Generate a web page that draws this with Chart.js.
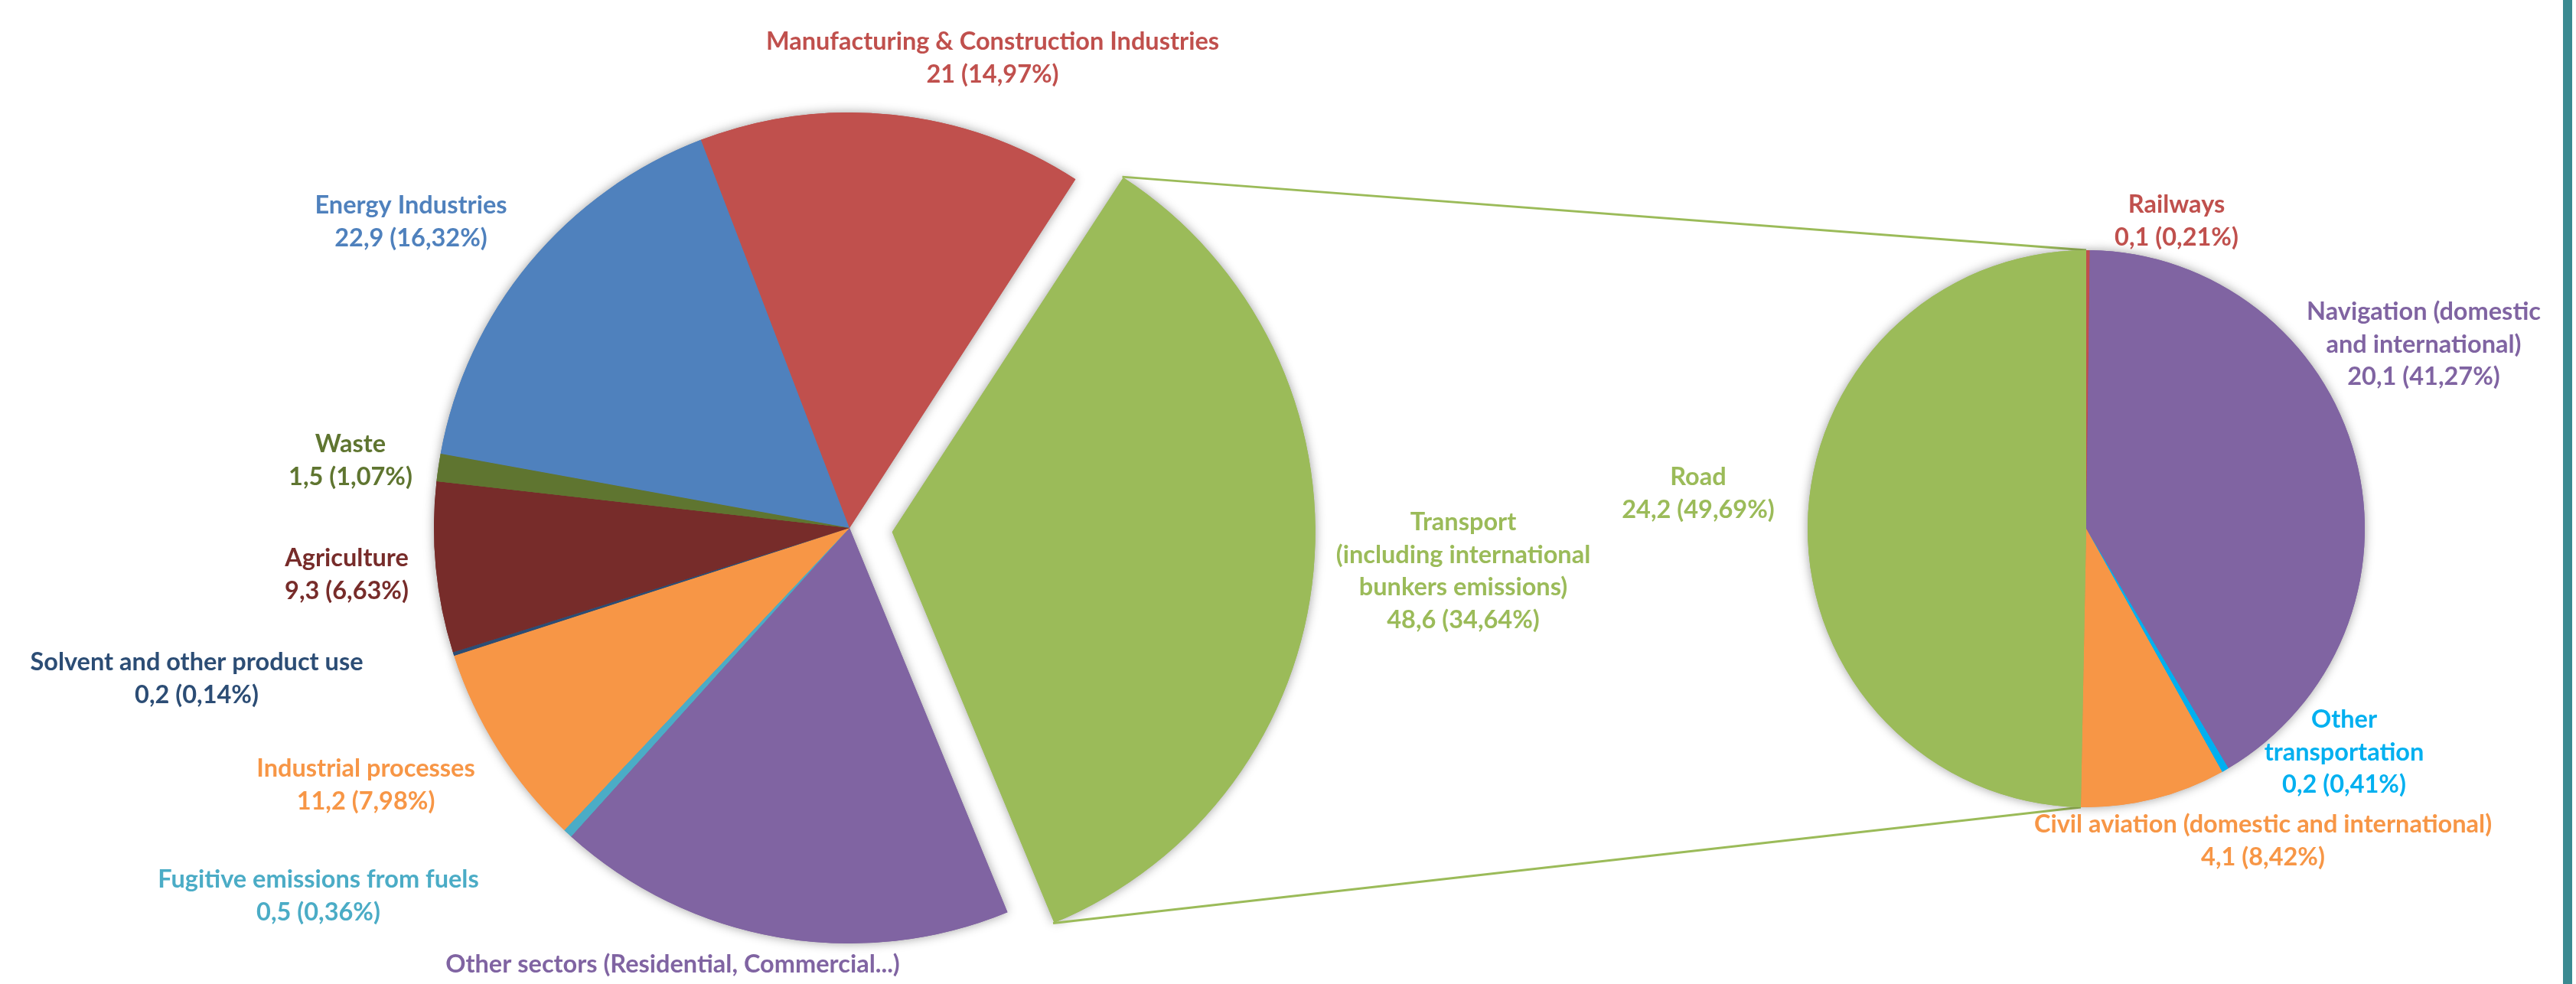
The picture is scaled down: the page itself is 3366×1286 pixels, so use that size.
<!DOCTYPE html>
<html>
<head>
<meta charset="utf-8">
<title>Emissions by sector</title>
<script src="https://cdn.jsdelivr.net/npm/chart.js@4.4.0/dist/chart.umd.min.js"></script>
<style>
  html, body { margin: 0; padding: 0; background: #fff; }
  #stage { position: relative; width: 3366px; height: 1286px; overflow: hidden; background: #fff; }
  #stage canvas { position: absolute; left: 0; top: 0; }
  #edge { position: absolute; left: 3349px; top: 0; width: 12px; height: 1286px; background: #3b8a91; }
</style>
</head>
<body>
<div id="stage">
  <canvas id="mainPie" width="3366" height="1286"></canvas>
  <canvas id="transportPie" width="3366" height="1286"></canvas>
  <div id="edge"></div>
</div>
<script>
// main pie: sectors (clockwise, Energy first)
const sectorNames = [
  ['Energy Industries'],
  ['Manufacturing & Construction Industries'],
  ['Transport', '(including international', 'bunkers emissions)'],
  ['Other sectors (Residential, Commercial...)'],
  ['Fugitive emissions from fuels'],
  ['Industrial processes'],
  ['Solvent and other product use'],
  ['Agriculture'],
  ['Waste'],
];
const sectorValues = [22.9, 21, 48.6, 25.1, 0.5, 11.2, 0.2, 9.3, 1.5];

// secondary pie: split of transport (clockwise from the top)
const transportNames = [
  ['Railways'],
  ['Navigation (domestic', 'and international)'],
  ['Other', 'transportation'],
  ['Civil aviation (domestic and international)'],
  ['Road'],
];
const transportValues = [0.1, 20.1, 0.2, 4.1, 24.2];

const TRANSPORT = 2;
const ROAD = 4;

const sectorColors = ['#4f81bd', '#c0504d', '#9bbb59', '#8064a2', '#4bacc6', '#f79646', '#2c4d75', '#772c2a', '#5f7530'];
const sectorTextColors = ['#4f81bd', '#c0504d', '#9bbb59', '#8064a2', '#4bacc6', '#f79646', '#2c4d75', '#772c2a', '#5f7530'];
const transportColors = ['#c0504d', '#8064a2', '#00b0f0', '#f79646', '#9bbb59'];
const transportTextColors = ['#c0504d', '#8064a2', '#00b0f0', '#f79646', '#9bbb59'];

// first-line centre of each label, relative to its pie centre
const sectorLabelPos = [[-573, -421], [187, -635], [802, -7], [-231, 571], [-694, 460], [-632, 315], [-853, 176], [-657, 40], [-652, -109]];
const transportLabelPos = [[118, -423], [441, -283], [337, 250], [231, 387], [-507, -67]];

const LINE_H = 42.5;
const LABEL_FONT = 'bold 32.5px Lato, "Liberation Sans", sans-serif';

function fmt(n) {
  return String(n).replace('.', ',');
}

const pieShadow = {
  id: 'pieShadow',
  beforeDatasetsDraw(chart) {
    const ctx = chart.ctx;
    ctx.save();
    ctx.shadowColor = 'rgba(0, 0, 0, 0.38)';
    ctx.shadowBlur = 14;
    chart.getDatasetMeta(0).data.forEach((arc) => arc.draw(ctx));
    ctx.restore();
  },
};

const sliceLabels = {
  id: 'sliceLabels',
  afterDatasetsDraw(chart, args, opts) {
    const ctx = chart.ctx;
    const meta = chart.getDatasetMeta(0);
    const values = chart.data.datasets[0].data;
    const total = values.reduce((a, b) => a + b, 0);
    const cx = meta.data[0].x;
    const cy = meta.data[0].y;
    ctx.save();
    ctx.font = LABEL_FONT;
    ctx.textAlign = 'center';
    ctx.textBaseline = 'middle';
    chart.data.labels.forEach((lines, i) => {
      const [dx, dy] = opts.positions[i];
      const pct = (values[i] / total * 100).toFixed(2).replace('.', ',');
      const rows = lines.concat(fmt(values[i]) + ' (' + pct + '%)');
      ctx.fillStyle = opts.colors[i];
      rows.forEach((t, k) => ctx.fillText(t, cx + dx, cy + dy + k * LINE_H));
    });
    ctx.restore();
  },
};

// outer corners of an arc, with the same shift ArcElement.draw applies for offset
function arcEnds(arc) {
  const o = (arc.options.offset || 0) / 4;
  const mid = (arc.startAngle + arc.endAngle) / 2;
  const fix = 1 - Math.sin(Math.min(Math.PI, arc.circumference));
  const r = arc.outerRadius + o * fix;
  const x = arc.x + Math.cos(mid) * o;
  const y = arc.y + Math.sin(mid) * o;
  return {
    start: [x + r * Math.cos(arc.startAngle), y + r * Math.sin(arc.startAngle)],
    end: [x + r * Math.cos(arc.endAngle), y + r * Math.sin(arc.endAngle)],
  };
}

const mainChart = new Chart(document.getElementById('mainPie'), {
  type: 'pie',
  data: {
    labels: sectorNames,
    datasets: [{
      data: sectorValues,
      backgroundColor: sectorColors,
      borderWidth: 0,
      offset: sectorValues.map((v, i) => (i === TRANSPORT ? 224 : 0)),
    }],
  },
  options: {
    responsive: false,
    animation: false,
    radius: 543,
    rotation: 280.3,
    layout: { padding: { left: 0, right: 1146, top: 94, bottom: 0 } },
    plugins: {
      legend: { display: false },
      tooltip: { enabled: false },
      sliceLabels: { positions: sectorLabelPos, colors: sectorTextColors },
    },
  },
  plugins: [pieShadow, sliceLabels],
});

const connectors = {
  id: 'connectors',
  beforeDatasetsDraw(chart) {
    const src = arcEnds(mainChart.getDatasetMeta(0).data[TRANSPORT]);
    const dst = arcEnds(chart.getDatasetMeta(0).data[ROAD]);
    const ctx = chart.ctx;
    ctx.save();
    ctx.strokeStyle = '#9bbb59';
    ctx.lineWidth = 3;
    ctx.beginPath();
    ctx.moveTo(src.start[0], src.start[1]);
    ctx.lineTo(dst.end[0], dst.end[1]);
    ctx.moveTo(src.end[0], src.end[1]);
    ctx.lineTo(dst.start[0], dst.start[1]);
    ctx.stroke();
    ctx.restore();
  },
};

const transportChart = new Chart(document.getElementById('transportPie'), {
  type: 'pie',
  data: {
    labels: transportNames,
    datasets: [{
      data: transportValues,
      backgroundColor: transportColors,
      borderWidth: 0,
    }],
  },
  options: {
    responsive: false,
    animation: false,
    radius: 364,
    rotation: 0,
    layout: { padding: { left: 2086, right: 0, top: 96, bottom: 0 } },
    plugins: {
      legend: { display: false },
      tooltip: { enabled: false },
      sliceLabels: { positions: transportLabelPos, colors: transportTextColors },
    },
  },
  plugins: [connectors, pieShadow, sliceLabels],
});
</script>
</body>
</html>
